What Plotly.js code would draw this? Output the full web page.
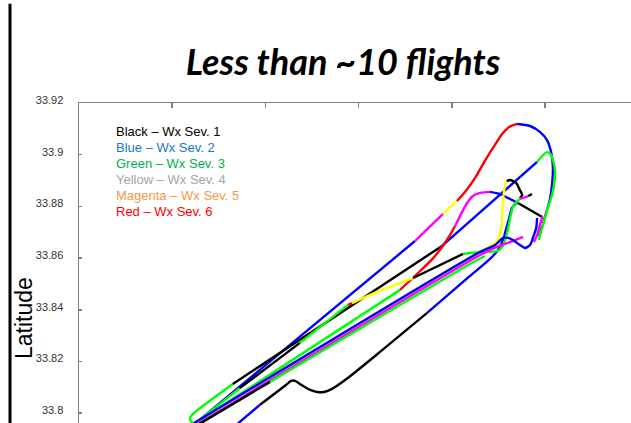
<!DOCTYPE html>
<html>
<head>
<meta charset="utf-8">
<script src="https://cdn.plot.ly/plotly-3.0.1.min.js"></script>
<style>
  html, body { margin: 0; padding: 0; background: #fff; }
  #chart { width: 631px; height: 423px; }
</style>
</head>
<body>
<div id="chart"></div>
<script>
// Flight tracks: longitude, latitude, and weather severity of the leg that starts at each fix
const flight1Lon = [-118.0749, -118.0279, -118.0219, -118.0189, -118.0170, -118.0150, -118.0129, -118.0109, -118.0092, -118.0077, -118.0060, -118.0032, -118.0011, -117.9996, -117.9987, -117.9983, -117.9985, -117.9989, -117.9994, -118.0000, -118.0006, -118.0013];
const flight1Lat = [33.7962, 33.8666, 33.8771, 33.8821, 33.8860, 33.8910, 33.8976, 33.9034, 33.9080, 33.9107, 33.9119, 33.9111, 33.9088, 33.9057, 33.9010, 33.8949, 33.8883, 33.8832, 33.8798, 33.8763, 33.8724, 33.8685];
const flight1Sev = [2, 5, 4, 6, 6, 6, 6, 6, 6, 6, 2, 2, 2, 2, 2, 2, 2, 2, 5, 5, 2, 2];

const flight2Lon = [-118.0747, -118.0760, -118.0762, -118.0755, -118.0740, -118.0670, -118.0221, -118.0017, -118.0004, -117.9996, -117.9987, -117.9979, -117.9979, -117.9985, -117.9994, -118.0004, -118.0011, -118.0013];
const flight2Lat = [33.7950, 33.7970, 33.7981, 33.7997, 33.8020, 33.8113, 33.8647, 33.8972, 33.8999, 33.9010, 33.8999, 33.8949, 33.8902, 33.8844, 33.8794, 33.8728, 33.8689, 33.8670];
const flight2Sev = [3, 3, 3, 3, 3, 1, 2, 3, 3, 3, 3, 3, 3, 3, 3, 3, 3, 3];

const flight3Lon = [-118.0663, -118.0612, -118.0556, -118.0545, -118.0536, -118.0526, -118.0504, -118.0489, -118.0474, -118.0457, -118.0429, -118.0354, -118.0253, -118.0161, -118.0118, -118.0101, -118.0090, -118.0084, -118.0077, -118.0071, -118.0062];
const flight3Lat = [33.7954, 33.8032, 33.8109, 33.8125, 33.8125, 33.8113, 33.8090, 33.8082, 33.8082, 33.8094, 33.8128, 33.8237, 33.8388, 33.8531, 33.8597, 33.8631, 33.8670, 33.8709, 33.8755, 33.8794, 33.8813];
const flight3Sev = [2, 1, 1, 1, 1, 1, 1, 1, 1, 1, 1, 1, 2, 2, 2, 2, 2, 2, 2, 2, 2];

const flight4Lon = [-118.0753, -118.0311, -118.0268, -118.0240, -118.0221, -118.0204, -118.0193, -118.0180, -118.0167, -118.0155, -118.0139, -118.0118, -118.0097, -118.0079, -118.0058, -118.0006, -118.0011, -118.0017, -118.0024];
const flight4Lat = [33.7958, 33.8477, 33.8550, 33.8600, 33.8643, 33.8689, 33.8724, 33.8771, 33.8813, 33.8840, 33.8852, 33.8856, 33.8848, 33.8832, 33.8813, 33.8759, 33.8728, 33.8689, 33.8662];
const flight4Sev = [3, 6, 6, 6, 6, 6, 5, 5, 5, 5, 5, 2, 2, 2, 1, 5, 5, 5, 5];

const flight5Lon = [-118.0740, -118.0354, -118.0167, -118.0118, -118.0105, -118.0094, -118.0092, -118.0090, -118.0086, -118.0082, -118.0075, -118.0062, -118.0054, -118.0049, -118.0054];
const flight5Lat = [33.7958, 33.8395, 33.8597, 33.8647, 33.8662, 33.8709, 33.8767, 33.8825, 33.8879, 33.8898, 33.8902, 33.8891, 33.8863, 33.8844, 33.8832];
const flight5Sev = [4, 4, 4, 4, 4, 4, 4, 4, 4, 1, 1, 1, 1, 1, 1];

const flight6Lon = [-118.0755, -118.0655, -118.0526, -118.0423, -118.0414, -118.0365, -118.0311, -118.0283, -118.0176, -118.0139, -118.0103, -118.0092, -118.0084, -118.0079, -118.0073, -118.0067, -118.0054, -118.0036, -118.0028];
const flight6Lat = [33.7954, 33.8097, 33.8272, 33.8419, 33.8426, 33.8465, 33.8504, 33.8523, 33.8616, 33.8624, 33.8627, 33.8643, 33.8678, 33.8716, 33.8771, 33.8805, 33.8829, 33.8840, 33.8848];
const flight6Sev = [3, 1, 3, 6, 4, 4, 4, 1, 3, 3, 3, 3, 3, 3, 3, 3, 5, 1, 1];

const flight7Lon = [-118.0749, -118.0139, -118.0103, -118.0075, -118.0047];
const flight7Lat = [33.7954, 33.8612, 33.8643, 33.8662, 33.8682];
const flight7Sev = [5, 5, 5, 5, 5];

const flight8Lon = [-118.0753, -118.0139, -118.0107, -118.0090, -118.0079, -118.0069, -118.0054, -118.0043, -118.0032, -118.0026, -118.0019, -118.0017];
const flight8Lat = [33.7962, 33.8624, 33.8651, 33.8678, 33.8678, 33.8670, 33.8651, 33.8639, 33.8651, 33.8678, 33.8716, 33.8755];
const flight8Sev = [2, 2, 2, 2, 2, 2, 2, 2, 2, 2, 2, 2];

const flight9Lon = [-118.0742, -118.0590, -118.0161, -118.0129];
const flight9Lat = [33.7958, 33.8121, 33.8577, 33.8608];
const flight9Sev = [1, 3, 3, 3];

// Severity levels, their line colours and the key text
const sevLevels = [1, 2, 3, 4, 5, 6];
const sevLineColors = ['#000000', '#0000ff', '#00ff00', '#ffff00', '#ff00ff', '#ff0000'];
const keyLabels = ['Black \u2013 Wx Sev. 1', 'Blue \u2013 Wx Sev. 2', 'Green \u2013 Wx Sev. 3',
                   'Yellow \u2013 Wx Sev. 4', 'Magenta \u2013 Wx Sev. 5', 'Red \u2013 Wx Sev. 6'];
const keyColors = ['#000000', '#1878c8', '#00b050', '#a6a6a6', '#f79646', '#ff0000'];

// Latitude ticks
const latTickVals = [33.8, 33.82, 33.84, 33.86, 33.88, 33.9, 33.92];
const latTickText = ['33.8', '33.82', '33.84', '33.86', '33.88', '33.9', '33.92'];

const flights = [
  [flight1Lon, flight1Lat, flight1Sev],
  [flight2Lon, flight2Lat, flight2Sev],
  [flight3Lon, flight3Lat, flight3Sev],
  [flight4Lon, flight4Lat, flight4Sev],
  [flight5Lon, flight5Lat, flight5Sev],
  [flight6Lon, flight6Lat, flight6Sev],
  [flight7Lon, flight7Lat, flight7Sev],
  [flight8Lon, flight8Lat, flight8Sev],
  [flight9Lon, flight9Lat, flight9Sev]
];

// Split each track into runs of equal severity, one line trace per run
const traces = [];
flights.forEach(([lon, lat, sev]) => {
  let i = 0;
  while (i < lon.length - 1) {
    const s = sev[i];
    let j = i;
    while (j < lon.length - 1 && sev[j] === s) j++;
    traces.push({
      type: 'scatter', mode: 'lines',
      x: lon.slice(i, j + 1), y: lat.slice(i, j + 1),
      line: { color: sevLineColors[sevLevels.indexOf(s)], width: 2.4, shape: 'spline', smoothing: 0.7 },
      hoverinfo: 'skip', showlegend: false
    });
    i = j;
  }
});

const annotations = keyLabels.map((t, k) => ({
  text: t, xref: 'paper', yref: 'paper',
  x: 0.064, y: 0.9103 - k * 0.05, xanchor: 'left', yanchor: 'middle',
  showarrow: false,
  font: { family: 'Liberation Sans, Arial, sans-serif', size: 13, color: keyColors[k] }
}));

annotations.push({
  text: 'Latitude', xref: 'paper', yref: 'paper',
  x: -0.0996, y: 0.328, xanchor: 'center', yanchor: 'middle',
  textangle: -90, showarrow: false,
  font: { family: 'Liberation Sans, Arial, sans-serif', size: 23, color: '#000' }
});

const layout = {
  width: 631, height: 423,
  margin: { l: 79, r: 0, t: 103, b: 0, pad: 0 },
  paper_bgcolor: '#ffffff', plot_bgcolor: '#ffffff',
  title: {
    text: 'Less than ~10 flights',
    font: { family: 'Lato, Open Sans, sans-serif', size: 36, color: '#000', weight: 'bold', style: 'italic' },
    x: 0.5436, xref: 'container', xanchor: 'center',
    y: 0.853, yref: 'container', yanchor: 'middle'
  },
  xaxis: {
    range: [-118.1, -117.98155], side: 'top',
    showline: true, linecolor: '#808080', linewidth: 1.5,
    ticks: 'inside', ticklen: 5, tickwidth: 1.5, tickcolor: '#808080',
    tick0: -118.1, dtick: 0.02, showticklabels: false,
    showgrid: false, zeroline: false
  },
  yaxis: {
    range: [33.7962, 33.92],
    showline: true, linecolor: '#808080', linewidth: 1.5,
    ticks: 'inside', ticklen: 3, tickwidth: 1.5, tickcolor: '#808080',
    tickmode: 'array', tickvals: latTickVals, ticktext: latTickText,
    tickfont: { family: 'Liberation Sans, Arial, sans-serif', size: 11, color: '#333333' },
    ticklabelstandoff: 12, ticklabelshift: -3,
    showgrid: false, zeroline: false
  },
  shapes: [{
    type: 'line', xref: 'paper', yref: 'paper',
    x0: -0.125, x1: -0.125, y0: 1.31, y1: -0.05,
    line: { color: '#000000', width: 3 }
  }],
  annotations: annotations,
  showlegend: false
};

Plotly.newPlot('chart', traces, layout, { displayModeBar: false, staticPlot: true });
</script>
</body>
</html>
